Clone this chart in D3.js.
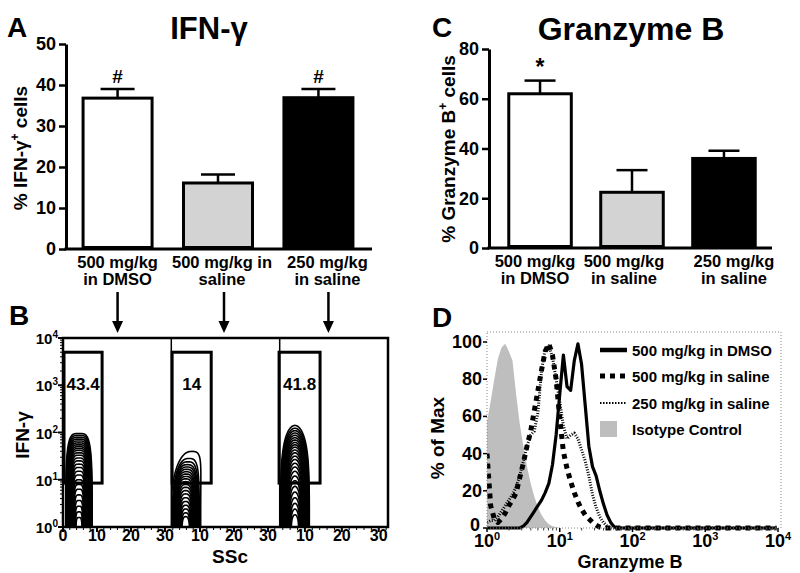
<!DOCTYPE html>
<html><head><meta charset="utf-8">
<script src="https://cdn.jsdelivr.net/npm/d3@7"></script>
<style>
body{margin:0;background:#fff}
svg{display:block}
text{font-family:"Liberation Sans",Arial,Helvetica,sans-serif;font-weight:bold;fill:#000}
</style>
</head><body>
<svg id="c" width="800" height="573"></svg>
<script>
// ---------------- DATA ----------------
const labelsA = [["500 mg/kg","in DMSO"],["500 mg/kg in","saline"],["250 mg/kg","in saline"]];
const labelsC = [["500 mg/kg","in DMSO"],["500 mg/kg","in saline"],["250 mg/kg","in saline"]];
const ifnMean = [36.8, 16.1, 36.9];
const ifnSem  = [2.2, 2.1, 2.1];
const ifnSig  = ["#", "", "#"];
const ifnTicks = [0,10,20,30,40,50];
const gzmMean = [62.0, 22.4, 36.0];
const gzmSem  = [5.3, 8.9, 3.1];
const gzmSig  = ["*", "", ""];
const gzmTicks = [0,20,40,60,80];
const barFills = ["#ffffff", "#d3d3d3", "#000000"];

// Panel B (flow plots, IFN-γ vs SSc)
const gatePct = ["43.4", "14", "41.8"];
const gateLeft = [0.3, 1.8, 3.0];
const gateRight = [11.5, 13.3, 14.1];
const gateLow = 8.5, gateHigh = 5000;
const sscTicks = [[0,10,20,30],[10,20,30],[10,20,30]];
const ifnLogTicks = [0,1,2,3,4];
const sscCenters = [4.7, 5.8, 7.3];
const ssc1Tops  = [1.98,1.94,1.90,1.86,1.82,1.78,1.74,1.70,1.66,1.62,1.57,1.52,1.46,1.40,1.33,1.26,1.18,1.10,1.00,0.90,0.80,0.68,0.56,0.44,0.32,0.20];
const ssc1HalfW = [3.9,3.78,3.66,3.54,3.42,3.3,3.18,3.06,2.94,2.82,2.7,2.58,2.46,2.34,2.22,2.1,1.98,1.86,1.74,1.62,1.5,1.38,1.26,1.14,1.02,0.9];
const ssc2Tops  = [1.60,1.45,1.38,1.32,1.27,1.22,1.17,1.12,1.07,1.02,0.96,0.90,0.84,0.77,0.70,0.62,0.54,0.46,0.38,0.30,0.22];
const ssc2HalfW = [4.4,4.0,3.85,3.7,3.55,3.4,3.25,3.1,2.95,2.8,2.65,2.5,2.35,2.2,2.05,1.9,1.75,1.6,1.45,1.3,1.15];
const ssc2Skew  = [1.9,1.0,0.7,0.5,0.4,0.3,0.2,0.15,0.1,0,0,0,0,0,0,0,0,0,0,0,0];
const ssc3Tops  = [2.15,2.09,2.04,1.99,1.94,1.89,1.84,1.79,1.74,1.69,1.63,1.57,1.50,1.43,1.35,1.27,1.18,1.08,0.98,0.86,0.74,0.62,0.50,0.38,0.26];
const ssc3HalfW = [3.9,3.78,3.66,3.54,3.42,3.3,3.18,3.06,2.94,2.82,2.7,2.58,2.46,2.34,2.22,2.1,1.98,1.86,1.74,1.62,1.5,1.38,1.26,1.14,1.02];

// Panel D (histograms, Granzyme B, log10 exponent grid)
const gzbExp = [0,0.05,0.1,0.15,0.2,0.25,0.3,0.35,0.4,0.45,0.5,0.55,0.6,0.65,0.7,0.75,0.8,0.85,0.9,0.95,1.0,1.05,1.1,1.15,1.2,1.25,1.3,1.35,1.4,1.45,1.5,1.55,1.6,1.65,1.7,1.75,1.8,2.0,2.5,3.0,3.5,3.98];
const histIsotype = [57,68,80,91,97,99,95,90,72,56,44,33,24,17,11,7,4,2,1,0.5,0,0,0,0,0,0,0,0,0,0,0,0,0,0,0,0,0,0,0,0,0,0];
const histSaline500 = [40,12,5,3,5,8,12,15,19,27,35,44,52,63,74,85,95,99,93,80,59,41,32,25,19,14,10,7,5,3,1.5,0.5,0,0,0,0,0,0,0,0,0,0];
const histSaline250 = [3,4,4,6,9,12,15,18,22,28,36,44,50,52,62,85,96,98,92,80,68,55,48,50,51,48,42,36,28,18,11,6,3,1,0,0,0,0,0,0,0,0];
const histDMSO = [0,0,0,0,0,0,0,0,0,0,1,3,6,9,12,15,19,24,34,50,72,93,76,74,90,99,88,66,44,33,28,20,13,7,3,0.5,0,0,0,0,0,0];
const legendD = ["500 mg/kg in DMSO","500 mg/kg in saline","250 mg/kg in saline","Isotype Control"];
const pctTicks = [0,20,40,60,80,100];

// ---------------- DRAW ----------------
const svg = d3.select("#c");
const F = "Liberation Sans, Arial, sans-serif";

function styleAxis(g, fs){
  g.attr("font-family", F).attr("font-weight","bold");
  g.selectAll("text").style("font-size", fs+"px").attr("fill","#000");
  g.selectAll("line").attr("stroke","#000").attr("stroke-width",2.5);
  g.select(".domain").attr("stroke","#000").attr("stroke-width",3);
}

function barPanel(o){
  const y = d3.scaleLinear().domain(o.domain).range(o.yRange);
  const x = d3.scaleBand().domain(d3.range(o.means.length)).range(o.xRange)
    .paddingInner(o.padIn).paddingOuter(o.padOut);
  const g = svg.append("g");
  const ax = g.append("g").attr("transform",`translate(${o.xRange[0]},0)`)
    .call(d3.axisLeft(y).tickValues(o.ticks).tickSize(7).tickSizeOuter(0).tickPadding(3));
  styleAxis(ax, 18);
  g.append("line").attr("x1",o.xRange[0]-1.5).attr("x2",o.axisEnd).attr("y1",y(0)).attr("y2",y(0))
    .attr("stroke","#000").attr("stroke-width",3);
  const bw = x.bandwidth();
  o.means.forEach((m,i)=>{
    const cx = x(i)+bw/2;
    g.append("line").attr("x1",cx).attr("x2",cx).attr("y1",y(m)).attr("y2",y(m+o.sem[i]))
      .attr("stroke","#000").attr("stroke-width",2.5);
    g.append("line").attr("x1",cx-o.cap).attr("x2",cx+o.cap).attr("y1",y(m+o.sem[i])).attr("y2",y(m+o.sem[i]))
      .attr("stroke","#000").attr("stroke-width",2.5);
    g.append("rect").attr("x",x(i)).attr("y",y(m)).attr("width",bw).attr("height",y(0)-y(m)-1.5)
      .attr("fill",barFills[i]).attr("stroke","#000").attr("stroke-width",3);
    if(o.sig[i]) g.append("text").attr("x",cx).attr("y",y(m+o.sem[i])-6).attr("text-anchor","middle")
      .style("font-size",o.sigSize+"px").text(o.sig[i]);
    const lx = cx + o.labelDx[i];
    o.labels[i].forEach((t,k)=>{
      g.append("text").attr("x",lx).attr("y",y(0)+19+k*17).attr("text-anchor","middle")
        .style("font-size","16.5px").text(t);
    });
  });
  return {x,y};
}

// Panel A
const A = barPanel({domain:[0,50], yRange:[249,44], xRange:[66,370], axisEnd:372, padIn:0.313, padOut:0.17,
  means:ifnMean, sem:ifnSem, sig:ifnSig, ticks:ifnTicks, cap:17, sigSize:19, labels:labelsA, labelDx:[0,4,9]});
// Panel C
const C = barPanel({domain:[0,80], yRange:[248,49], xRange:[489,775], axisEnd:772, padIn:0.32, padOut:0.215,
  means:gzmMean, sem:gzmSem, sig:gzmSig, ticks:gzmTicks, cap:15.5, sigSize:23, labels:labelsC, labelDx:[-5,-8,10]});

// Titles & letters
svg.append("text").attr("x",209).attr("y",39).attr("text-anchor","middle").style("font-size","31px").text("IFN-γ");
svg.append("text").attr("x",631).attr("y",40).attr("text-anchor","middle").style("font-size","32px").text("Granzyme B");
[["A",7,37],["C",432,37],["B",9,325],["D",432,327]].forEach(d=>{
  svg.append("text").attr("x",d[1]).attr("y",d[2]).style("font-size","28px").text(d[0]);
});

// Y labels for A and C
function rotLabel(x,y,parts){
  const t = svg.append("text").attr("transform",`translate(${x},${y}) rotate(-90)`).attr("text-anchor","middle")
    .style("font-size","19px");
  parts.forEach(p=>{
    const s = t.append("tspan").text(p.t);
    if(p.sup){ s.attr("dy",-8).style("font-size","12px"); }
    if(p.after){ s.attr("dy",8); }
  });
}
rotLabel(27,148,[{t:"% IFN-γ"},{t:"+",sup:true},{t:" cells",after:true}]);
rotLabel(455,149,[{t:"% Granzyme B"},{t:"+",sup:true},{t:" cells",after:true}]);

// Arrows from A to B
const arrowDx = [0,6,10];
ifnMean.forEach((m,i)=>{
  const cx = A.x(i)+A.x.bandwidth()/2 + arrowDx[i];
  svg.append("line").attr("x1",cx).attr("x2",cx).attr("y1",292).attr("y2",324).attr("stroke","#000").attr("stroke-width",2.5);
  svg.append("path").attr("d",`M${cx-5.5},321 L${cx+5.5},321 L${cx},333 Z`).attr("fill","#000");
});

// ---------------- Panel B ----------------
const bL=63, bR=388, bT=338, bB=527;
const yB = d3.scaleLog().domain([1,1e4]).range([bB,bT]);
const subScales = [
  d3.scaleLinear().domain([0,32]).range([63,171.8]),
  d3.scaleLinear().domain([0,33.3]).range([166,279.2]),
  d3.scaleLinear().domain([0,32.5]).range([268,388])
];
const subBounds = [[bL,171.3],[171.3,279.7],[279.7,bR]];
const defs = svg.append("defs");
subBounds.forEach((b,i)=>{
  defs.append("clipPath").attr("id","clipB"+i).append("rect")
    .attr("x",b[0]).attr("y",bT).attr("width",b[1]-b[0]).attr("height",bB-bT);
});
const contourSets = [
  {tops:ssc1Tops, hw:ssc1HalfW, sk:ssc1Tops.map(()=>0), a:0.5, b:0.4},
  {tops:ssc2Tops, hw:ssc2HalfW, sk:ssc2Skew, a:0.7, b:0.5},
  {tops:ssc3Tops, hw:ssc3HalfW, sk:ssc3Tops.map(()=>0), a:1.0, b:0.4}
];
const cLine = d3.line();
contourSets.forEach((cs,i)=>{
  const sx = subScales[i];
  const g = svg.append("g").attr("clip-path",`url(#clipB${i})`);
  cs.tops.forEach((top,k)=>{
    const pts = [];
    const base = -0.35;
    for(let j=0;j<=60;j++){
      const t = Math.PI*j/60, ct=Math.cos(t), st=Math.sin(t);
      const u = Math.sign(ct)*Math.pow(Math.abs(ct),cs.a);
      const v = Math.pow(st,cs.b);
      const xv = sscCenters[i] + cs.hw[k]*u + cs.sk[k]*st*st;
      const lv = base + (top-base)*v;
      pts.push([sx(xv), yB(Math.pow(10,lv))]);
    }
    g.append("path").attr("d",cLine(pts)).attr("fill","none").attr("stroke","#000").attr("stroke-width",1.6);
  });
  // gate
  svg.append("rect").attr("x",sx(gateLeft[i])).attr("y",yB(gateHigh))
    .attr("width",sx(gateRight[i])-sx(gateLeft[i])).attr("height",yB(gateLow)-yB(gateHigh))
    .attr("fill","none").attr("stroke","#000").attr("stroke-width",3);
  svg.append("text").attr("x",sx((gateLeft[i]+gateRight[i])/2)).attr("y",yB(1000)+5)
    .attr("text-anchor","middle").style("font-size","17px").text(gatePct[i]);
  // x ticks
  const lo = sx.invert(subBounds[i][0]), hi = sx.invert(subBounds[i][1]);
  for(let v=0; v<=hi; v+=2){
    if(v<lo-0.01) continue;
    const major = v%10===0;
    svg.append("line").attr("x1",sx(v)).attr("x2",sx(v)).attr("y1",bB).attr("y2",bB+(major?5:3))
      .attr("stroke","#000").attr("stroke-width",major?2:1);
  }
  sscTicks[i].forEach(v=>{
    svg.append("text").attr("x",sx(v)).attr("y",541).attr("text-anchor","middle").style("font-size","16px").text(v);
  });
});
// frame & dividers
svg.append("rect").attr("x",bL).attr("y",bT).attr("width",bR-bL).attr("height",bB-bT)
  .attr("fill","none").attr("stroke","#000").attr("stroke-width",2.5);
[subBounds[0][1], subBounds[1][1]].forEach(x=>{
  svg.append("line").attr("x1",x).attr("x2",x).attr("y1",bT).attr("y2",bB).attr("stroke","#000").attr("stroke-width",1.5);
});
// y ticks B
ifnLogTicks.forEach(e=>{
  const yy = yB(Math.pow(10,e));
  svg.append("line").attr("x1",bL-5).attr("x2",bL).attr("y1",yy).attr("y2",yy).attr("stroke","#000").attr("stroke-width",2);
  const t = svg.append("text").attr("x",58).attr("y",yy+6).attr("text-anchor","end").style("font-size","15px");
  t.append("tspan").text("10");
  t.append("tspan").attr("dy",-6).style("font-size","10px").text(e);
  if(e<4) for(let m=2;m<=9;m++){
    const ym = yB(m*Math.pow(10,e));
    svg.append("line").attr("x1",bL-3).attr("x2",bL).attr("y1",ym).attr("y2",ym).attr("stroke","#000").attr("stroke-width",1);
  }
});
svg.append("text").attr("x",230).attr("y",563).attr("text-anchor","middle").style("font-size","19px").text("SSc");
svg.append("text").attr("transform","translate(29,435) rotate(-90)").attr("text-anchor","middle").style("font-size","19px").text("IFN-γ");

// ---------------- Panel D ----------------
const dL=487, dR=781, dT=332, dB=528;
const xD = d3.scaleLog().domain([1,1e4]).range([487,778]);
const yD = d3.scaleLinear().domain([0,100]).range([528,342]);
defs.append("clipPath").attr("id","clipD").append("rect").attr("x",dL).attr("y",dT).attr("width",dR-dL).attr("height",dB-dT+3);
const gD = svg.append("g").attr("clip-path","url(#clipD)");
const xe = e=>xD(Math.pow(10,e));
const area = d3.area().x((d,i)=>xe(gzbExp[i])).y0(yD(0)).y1(d=>yD(d));
gD.append("path").attr("d",area(histIsotype)).attr("fill","#bebebe");
const ln = d3.line().x((d,i)=>xe(gzbExp[i])).y(d=>yD(d));
const lineStyles = [
  {data:histSaline250, w:3, dash:"1,1.6"},
  {data:histSaline500, w:5, dash:"5,5"},
  {data:histDMSO, w:3.2, dash:null}
];
lineStyles.forEach(s=>{
  const p = gD.append("path").attr("d",ln(s.data)).attr("fill","none").attr("stroke","#000").attr("stroke-width",s.w)
    .attr("stroke-linejoin","round");
  if(s.dash) p.attr("stroke-dasharray",s.dash);
});
svg.append("rect").attr("x",dL).attr("y",dT).attr("width",dR-dL).attr("height",dB-dT)
  .attr("fill","none").attr("stroke","#888").attr("stroke-width",1).attr("stroke-dasharray","1,2");
pctTicks.forEach(v=>{
  svg.append("line").attr("x1",dL-4).attr("x2",dL).attr("y1",yD(v)).attr("y2",yD(v)).attr("stroke","#000").attr("stroke-width",1.5);
  svg.append("text").attr("x",v===0?480:482).attr("y",yD(v)+(v===0?3:6)).attr("text-anchor","end").style("font-size","18px").text(v);
});
for(let e=0;e<=4;e++){
  const xx = xD(Math.pow(10,e));
  svg.append("line").attr("x1",xx).attr("x2",xx).attr("y1",dB).attr("y2",dB+4).attr("stroke","#000").attr("stroke-width",1.5);
  const t = svg.append("text").attr("x",xx).attr("y",547).attr("text-anchor","middle").style("font-size","18px");
  t.append("tspan").text("10");
  t.append("tspan").attr("dy",-7).style("font-size","11px").text(e);
  if(e<4) for(let m=2;m<=9;m++){
    const xm = xD(m*Math.pow(10,e));
    svg.append("line").attr("x1",xm).attr("x2",xm).attr("y1",dB).attr("y2",dB+2.5).attr("stroke","#444").attr("stroke-width",1);
  }
}
svg.append("text").attr("x",630).attr("y",568).attr("text-anchor","middle").style("font-size","18px").text("Granzyme B");
svg.append("text").attr("transform","translate(444,438) rotate(-90)").attr("text-anchor","middle").style("font-size","19px").text("% of Max");

// Legend D
const legY = [350,376,403,429];
const legStyles = [
  {w:4.5, dash:null},
  {w:5, dash:"5,5"},
  {w:2, dash:"1.5,1.5"},
  null
];
legendD.forEach((t,i)=>{
  const s = legStyles[i];
  if(s){
    const l = svg.append("line").attr("x1",600).attr("x2",627).attr("y1",legY[i]).attr("y2",legY[i])
      .attr("stroke","#000").attr("stroke-width",s.w);
    if(s.dash) l.attr("stroke-dasharray",s.dash);
  } else {
    svg.append("rect").attr("x",600).attr("y",legY[i]-8).attr("width",17).attr("height",16).attr("fill","#bebebe");
  }
  svg.append("text").attr("x",632).attr("y",legY[i]+5.5).style("font-size","15px").text(t);
});
</script>
</body></html>
